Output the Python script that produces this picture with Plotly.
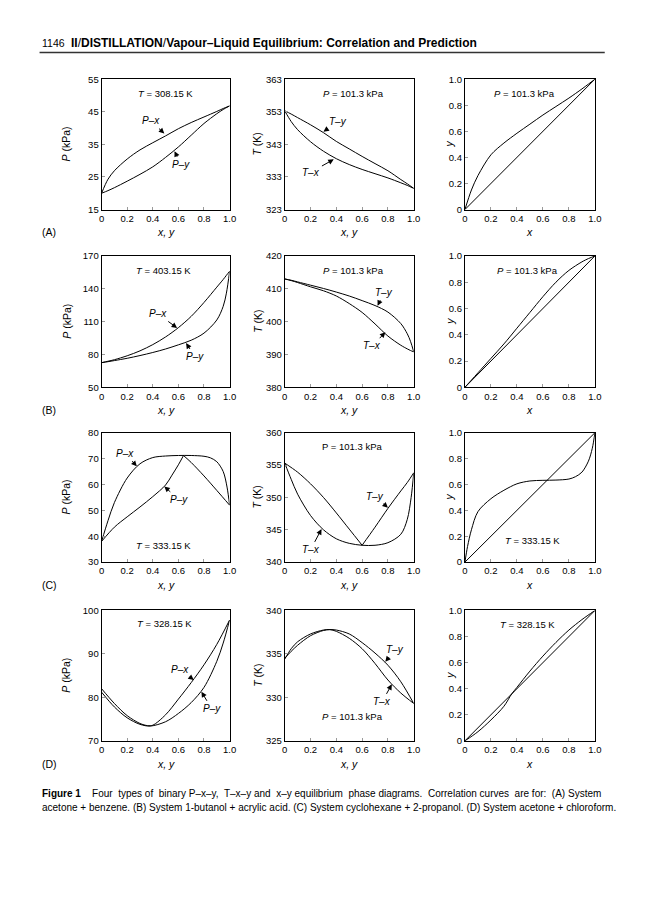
import plotly.graph_objects as go

FONT = "Liberation Sans, Arial, Helvetica, sans-serif"
OFF = 8            # default page margin of the html body
FW, FH = 652, 884  # figure size so that page + margins fit 668x900

def px(p):
    return (p - OFF) / FW

def py(p):
    return 1 - (p - OFF) / FH

# ---------------- tick labels ----------------
COMP_TICKS = [0, 0.2, 0.4, 0.6, 0.8, 1.0]
COMP_TICKTEXT = ["0", "0.2", "0.4", "0.6", "0.8", "1.0"]
A_P_TICKS = [15, 25, 35, 45, 55]
A_T_TICKS = [323, 333, 343, 353, 363]
B_P_TICKS = [50, 80, 110, 140, 170]
B_T_TICKS = [380, 390, 400, 410, 420]
C_P_TICKS = [30, 40, 50, 60, 70, 80]
C_T_TICKS = [340, 345, 350, 355, 360]
D_P_TICKS = [70, 80, 90, 100]
D_T_TICKS = [325, 330, 335, 340]

# ---------------- (A) acetone + benzene ----------------
A_X = [0, 0.05, 0.1, 0.2, 0.3, 0.4, 0.5, 0.6, 0.7, 0.8, 0.9, 0.95, 1.0]
A_P_LIQ = [20.0, 24.3, 26.9, 30.5, 33.3, 35.5, 37.6, 39.8, 41.7, 43.4, 45.1, 46.0, 46.8]
A_P_VAP = [20.0, 20.8, 21.7, 23.7, 25.8, 28.1, 31.0, 34.2, 37.8, 41.4, 44.4, 45.7, 46.8]
A_T_LIQ = [353.3, 350.0, 347.5, 343.8, 340.9, 338.6, 336.8, 335.3, 334.0, 332.7, 331.2, 330.4, 329.5]
A_T_VAP = [353.3, 352.3, 351.2, 349.0, 346.6, 343.9, 341.6, 339.3, 337.1, 334.9, 332.2, 330.9, 329.5]
A_XY_Y = [0, 0.15, 0.26, 0.42, 0.51, 0.585, 0.655, 0.725, 0.79, 0.855, 0.925, 0.962, 1.0]

# ---------------- (B) 1-butanol + acrylic acid ----------------
B_X = [0, 0.05, 0.1, 0.2, 0.3, 0.4, 0.5, 0.6, 0.7, 0.8, 0.9, 0.95, 0.975, 1.0]
B_P_LIQ = [72.5, 73.8, 75.2, 78.8, 83.3, 89.0, 96.0, 104.5, 114.8, 127.5, 141.5, 148.5, 152.3, 156.0]
B_P_VAP = [72.5, 73.4, 74.4, 76.5, 79.0, 81.8, 85.0, 88.8, 93.0, 99.5, 111.5, 124.0, 136.0, 156.0]
B_T_VAP = [413.0, 412.6, 412.1, 411.1, 410.1, 409.0, 407.8, 406.4, 404.9, 402.9, 399.4, 396.3, 394.0, 390.8]
B_T_LIQ = [413.0, 412.5, 411.9, 410.6, 409.4, 407.8, 405.5, 402.8, 399.3, 395.6, 392.8, 391.7, 391.2, 390.8]
B_XY_Y = [0, 0.055, 0.11, 0.22, 0.33, 0.45, 0.57, 0.69, 0.80, 0.89, 0.955, 0.98, 0.99, 1.0]

# ---------------- (C) cyclohexane + 2-propanol ----------------
C_PX_X = [0, 0.05, 0.1, 0.2, 0.3, 0.4, 0.5, 0.6, 0.7, 0.8, 0.85, 0.9, 0.95, 0.98, 1.0]
C_PX_P = [38.0, 46.0, 53.0, 62.5, 68.0, 70.4, 71.0, 71.2, 71.2, 70.9, 70.3, 68.8, 65.0, 59.0, 52.0]
C_PY_L_Y = [0, 0.1, 0.2, 0.3, 0.4, 0.5, 0.55, 0.6, 0.64]
C_PY_L_P = [38.0, 43.5, 47.5, 51.3, 55.3, 59.8, 63.6, 67.6, 71.2]
C_PY_R_Y = [0.64, 0.7, 0.8, 0.9, 1.0]
C_PY_R_P = [71.2, 68.5, 63.3, 57.7, 52.0]
C_TX_X = [0, 0.05, 0.1, 0.2, 0.3, 0.4, 0.5, 0.6, 0.7, 0.8, 0.9, 0.95, 0.98, 1.0]
C_TX_T = [355.3, 352.8, 350.5, 347.2, 345.0, 343.6, 342.9, 342.6, 342.6, 343.0, 344.3, 346.6, 350.0, 353.8]
C_TY_L_Y = [0, 0.1, 0.2, 0.3, 0.4, 0.5, 0.6]
C_TY_L_T = [355.3, 353.9, 352.1, 350.0, 347.6, 345.1, 342.6]
C_TY_R_Y = [0.6, 0.7, 0.8, 0.9, 0.95, 1.0]
C_TY_R_T = [342.6, 345.4, 348.3, 351.0, 352.3, 353.8]
C_XY_X = [0, 0.02, 0.05, 0.1, 0.2, 0.3, 0.4, 0.5, 0.6, 0.7, 0.8, 0.85, 0.9, 0.95, 0.98, 1.0]
C_XY_Y = [0, 0.12, 0.25, 0.39, 0.49, 0.555, 0.605, 0.627, 0.632, 0.634, 0.642, 0.66, 0.695, 0.78, 0.88, 1.0]

# ---------------- (D) acetone + chloroform ----------------
D_PX_X = [0, 0.1, 0.2, 0.3, 0.36, 0.4, 0.5, 0.6, 0.7, 0.8, 0.9, 1.0]
D_PX_P = [82.0, 78.6, 75.8, 74.0, 73.5, 73.6, 76.0, 79.6, 83.4, 87.5, 92.2, 97.8]
D_PY_Y = [0, 0.1, 0.2, 0.3, 0.38, 0.5, 0.6, 0.7, 0.8, 0.9, 0.95, 1.0]
D_PY_P = [81.2, 77.8, 75.3, 73.8, 73.4, 74.4, 76.3, 78.8, 82.3, 88.3, 92.5, 97.8]
D_T_X = [0, 0.05, 0.1, 0.2, 0.3, 0.35, 0.4, 0.5, 0.6, 0.7, 0.8, 0.9, 1.0]
D_T_LIQ = [334.4, 335.6, 336.4, 337.3, 337.75, 337.8, 337.6, 336.8, 335.6, 333.9, 332.0, 330.5, 329.3]
D_T_VAP = [334.5, 335.3, 336.0, 337.1, 337.7, 337.8, 337.75, 337.3, 336.3, 335.1, 333.7, 331.8, 329.3]
D_XY_X = [0, 0.1, 0.2, 0.3, 0.36, 0.4, 0.5, 0.6, 0.7, 0.8, 0.9, 1.0]
D_XY_Y = [0, 0.07, 0.16, 0.265, 0.36, 0.41, 0.535, 0.65, 0.755, 0.85, 0.93, 1.0]

DIAG = [0, 1.0]

# ---------------- layout geometry (page pixels) ----------------
COL_PX = [(100, 230), (286, 417), (469, 601)]
ROW_PX = [(74, 206), (253, 386), (432, 563), (612, 744)]
YTITLE_X = [64, 258, 453]

panel_yticks = [
    [A_P_TICKS, A_T_TICKS, COMP_TICKS],
    [B_P_TICKS, B_T_TICKS, COMP_TICKS],
    [C_P_TICKS, C_T_TICKS, COMP_TICKS],
    [D_P_TICKS, D_T_TICKS, COMP_TICKS],
]
ytitles = ["<i>P</i> (kPa)", "<i>T</i> (K)", "<i>y</i>"]
xtitles = ["<i>x, y</i>", "<i>x, y</i>", "<i>x</i>"]
row_labels = ["(A)", "(B)", "(C)", "(D)"]

curves = [
    (1, A_X, A_P_LIQ), (1, A_X, A_P_VAP),
    (2, A_X, A_T_LIQ), (2, A_X, A_T_VAP),
    (3, A_X, A_XY_Y), (3, DIAG, DIAG),
    (4, B_X, B_P_LIQ), (4, B_X, B_P_VAP),
    (5, B_X, B_T_LIQ), (5, B_X, B_T_VAP),
    (6, B_X, B_XY_Y), (6, DIAG, DIAG),
    (7, C_PX_X, C_PX_P), (7, C_PY_L_Y, C_PY_L_P), (7, C_PY_R_Y, C_PY_R_P),
    (8, C_TX_X, C_TX_T), (8, C_TY_L_Y, C_TY_L_T), (8, C_TY_R_Y, C_TY_R_T),
    (9, C_XY_X, C_XY_Y), (9, DIAG, DIAG),
    (10, D_PX_X, D_PX_P), (10, D_PY_Y, D_PY_P),
    (11, D_T_X, D_T_LIQ), (11, D_T_X, D_T_VAP),
    (12, D_XY_X, D_XY_Y), (12, DIAG, DIAG),
]

P101 = "<i>P</i> = 101.3 kPa"
labels = [
    (1, "<i>T</i> = 308.15 K", 0.50, 50.7),
    (2, P101, 0.53, 358.7),
    (3, P101, 0.46, 0.89),
    (4, "<i>T</i> = 403.15 K", 0.48, 156.4),
    (5, P101, 0.53, 415.5),
    (6, P101, 0.485, 0.887),
    (7, "<i>T</i> = 333.15 K", 0.48, 36.6),
    (8, "P = 101.3 kPa", 0.525, 357.8),
    (9, "<i>T</i> = 333.15 K", 0.52, 0.17),
    (10, "<i>T</i> = 328.15 K", 0.49, 96.9),
    (11, P101, 0.525, 327.8),
    (12, "<i>T</i> = 328.15 K", 0.485, 0.89),
]
arrows = [
    (1, "<i>P–x</i>", 0.385, 42.2, 0.49, 38.3),
    (1, "<i>P–y</i>", 0.62, 28.8, 0.57, 32.9),
    (2, "<i>T–y</i>", 0.415, 350.1, 0.30, 346.9),
    (2, "<i>T–x</i>", 0.20, 334.4, 0.38, 338.4),
    (4, "<i>P–x</i>", 0.44, 117.1, 0.59, 104.2),
    (4, "<i>P–y</i>", 0.73, 77.9, 0.66, 90.4),
    (5, "<i>T–y</i>", 0.77, 408.9, 0.72, 404.8),
    (5, "<i>T–x</i>", 0.68, 392.6, 0.78, 396.8),
    (7, "<i>P–x</i>", 0.186, 72.0, 0.275, 67.0),
    (7, "<i>P–y</i>", 0.605, 54.2, 0.49, 59.2),
    (8, "<i>T–y</i>", 0.70, 350.2, 0.80, 348.4),
    (8, "<i>T–x</i>", 0.20, 341.9, 0.285, 345.1),
    (10, "<i>P–x</i>", 0.615, 86.5, 0.72, 84.0),
    (10, "<i>P–y</i>", 0.86, 77.4, 0.78, 81.3),
    (11, "<i>T–y</i>", 0.855, 335.5, 0.78, 334.1),
    (11, "<i>T–x</i>", 0.755, 329.5, 0.83, 331.5),
]

fig = go.Figure()
for n, xs, ys in curves:
    fig.add_trace(go.Scatter(
        x=xs, y=ys, mode="lines", xaxis=f"x{n}", yaxis=f"y{n}",
        line=dict(color="black", width=1, shape="spline", smoothing=0.9),
        showlegend=False, hoverinfo="skip"))

tickfont = dict(family=FONT, size=9.5, color="black")
axcommon = dict(showline=True, linecolor="black", linewidth=1, mirror=True,
                ticks="inside", ticklen=3, tickwidth=1, tickcolor="#9a9a9a",
                showgrid=False, zeroline=False, tickfont=tickfont,
                fixedrange=True)
TITLE_FONT = dict(family=FONT, size=10.5, color="black")
layout = {}
annotations = []
for r in range(4):
    for c in range(3):
        n = r * 3 + c + 1
        x0, x1 = COL_PX[c]
        top, bot = ROW_PX[r]
        yt = panel_yticks[r][c]
        ytext = COMP_TICKTEXT if c == 2 else [str(v) for v in yt]
        sfx = "" if n == 1 else str(n)
        layout[f"xaxis{sfx}"] = dict(
            axcommon, domain=[px(x0), px(x1)], range=[0, 1],
            tickvals=COMP_TICKS, ticktext=COMP_TICKTEXT, anchor=f"y{n}")
        layout[f"yaxis{sfx}"] = dict(
            axcommon, domain=[py(bot), py(top)], range=[yt[0], yt[-1]],
            tickvals=yt, ticktext=ytext, anchor=f"x{n}")
        annotations.append(dict(
            text=xtitles[c], xref="paper", yref="paper",
            x=px((x0 + x1) / 2), y=py(bot + 23), showarrow=False,
            xanchor="center", yanchor="middle", font=TITLE_FONT))
        annotations.append(dict(
            text=ytitles[c], xref="paper", yref="paper",
            x=px(YTITLE_X[c]), y=py((top + bot) / 2), showarrow=False,
            textangle=-90, xanchor="center", yanchor="middle", font=TITLE_FONT))
    annotations.append(dict(
        text=row_labels[r], xref="paper", yref="paper",
        x=px(37), y=py(ROW_PX[r][1] + 23), showarrow=False,
        xanchor="left", yanchor="middle", font=TITLE_FONT))

LABEL_FONT = dict(family=FONT, size=9.5, color="black")
for n, txt, x, y in labels:
    annotations.append(dict(
        text=txt, xref=f"x{n}", yref=f"y{n}", x=x, y=y, showarrow=False,
        xanchor="center", yanchor="middle", font=LABEL_FONT))

for n, txt, tx, ty, axp, ayp in arrows:
    annotations.append(dict(
        text=txt, xref=f"x{n}", yref=f"y{n}", x=axp, y=ayp,
        axref=f"x{n}", ayref=f"y{n}", ax=tx, ay=ty,
        showarrow=True, arrowhead=2, arrowsize=1.1, arrowwidth=1,
        arrowcolor="black", standoff=0, startstandoff=1,
        font=dict(family=FONT, size=10, color="black")))

# header
annotations.append(dict(
    text="1146", xref="paper", yref="paper", x=px(37), y=py(37),
    showarrow=False, xanchor="left", yanchor="middle",
    font=dict(family=FONT, size=10.5, color="black")))
annotations.append(dict(
    text="<b>II</b>/<b>DISTILLATION</b>/<b>Vapour–Liquid Equilibrium: Correlation and Prediction</b>",
    xref="paper", yref="paper", x=px(67), y=py(37),
    showarrow=False, xanchor="left", yanchor="middle",
    font=dict(family=FONT, size=12, color="black")))

# caption (first line spaced out to mimic the justified paragraph)
SP = "&nbsp; "
CAP_FONT = dict(family=FONT, size=10, color="black")
cap1 = ("<b>Figure 1</b>&nbsp;&nbsp;&nbsp; Four" + SP + "types of" + SP + "binary P–x–y," + SP
        + "T–x–y and" + SP + "x–y equilibrium" + SP + "phase diagrams." + SP
        + "Correlation curves" + SP + "are for:" + SP + "(A) System")
annotations.append(dict(
    text=cap1, xref="paper", yref="paper", x=px(37), y=py(797),
    showarrow=False, xanchor="left", yanchor="middle", font=CAP_FONT))
annotations.append(dict(
    text="acetone + benzene. (B) System 1-butanol + acrylic acid. (C) System cyclohexane + 2-propanol. (D) System acetone + chloroform.",
    xref="paper", yref="paper", x=px(37), y=py(812),
    showarrow=False, xanchor="left", yanchor="middle", font=CAP_FONT))

fig.update_layout(
    width=FW, height=FH, margin=dict(l=0, r=0, t=0, b=0),
    paper_bgcolor="white", plot_bgcolor="white",
    font=dict(family=FONT, size=9.5, color="black"),
    showlegend=False, annotations=annotations,
    shapes=[dict(type="line", xref="paper", yref="paper",
                 x0=px(37), x1=px(611), y0=py(47), y1=py(47),
                 line=dict(color="#333333", width=1.5))],
    **layout)

fig.write_html("out.html")
